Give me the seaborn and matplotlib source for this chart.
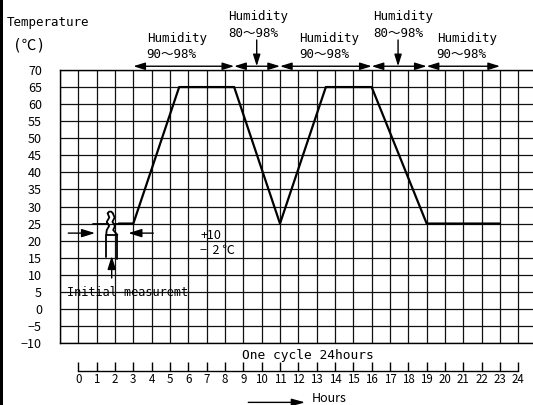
import matplotlib
matplotlib.use("Agg")
import matplotlib.pyplot as plt
from matplotlib.patches import Rectangle
import seaborn as sns

# ---------------- data ----------------
hours = [2.2, 3, 5.5, 8.5, 11, 13.5, 16, 19, 23]
temps = [25, 25, 65, 65, 25, 65, 65, 25, 25]
ytick_vals = [-10, -5, 0, 5, 10, 15, 20, 25, 30, 35, 40, 45, 50, 55, 60, 65, 70]
ytick_labels = ["−10", "−5", "0", "5", "10", "15", "20", "25", "30", "35",
                "40", "45", "50", "55", "60", "65", "70"]
ruler_hours = list(range(0, 25))
humidity_bounds = [3, 8.5, 11, 16, 19, 23]
humidity_ranges = ["90～98%", "80～98%", "90～98%", "80～98%", "90～98%"]
humidity_label_x = [3.73, 8.18, 12.06, 16.1, 19.55]
humidity_raised = [False, True, False, True, False]
humidity_marker_x = [9.73, 17.44]

# break-symbol / initial measurement sketch (hours, temperature)
stub_left_x, stub_left_y = [0.8, 1.6], [25, 25]
stub_right_x, stub_right_y = [1.93, 3.0], [25, 25]
wave_left_x = [1.6, 1.69, 1.55, 1.68, 1.55, 1.52]
wave_left_y = [28.0, 26.8, 25.5, 24.3, 23.1, 21.7]
wave_right_x = [1.88, 1.98, 1.86, 2.0, 1.9, 2.13]
wave_right_y = [28.0, 26.8, 25.5, 24.3, 23.1, 21.7]
cap_x = [1.6, 1.68, 1.8, 1.88]
cap_y = [28.0, 28.5, 28.5, 28.0]
box_x = [1.49, 1.49, 2.13, 2.13]
box_y = [15.1, 21.65, 21.65, 14.5]

# ---------------- figure ----------------
W, H, DPI = 533, 405, 100
sns.set_theme(style="white")
mono = ["DejaVu Sans Mono", "Noto Sans CJK JP"]
sans = ["Noto Sans CJK JP", "DejaVu Sans"]
plt.rcParams["font.family"] = mono

fig = plt.figure(figsize=(W / DPI, H / DPI), dpi=DPI)
fig.patch.set_facecolor("white")

def px(x, y):
    return x / W, 1 - y / H

ax = fig.add_axes([60 / W, 1 - 343 / H, 473 / W, 273 / H])
ax.set_facecolor("white")
ax.set_xlim(-1, 24.8)
ax.set_ylim(-10, 70)
ax.set_xticks(list(range(-1, 25)))
ax.set_xticklabels([])
ax.set_yticks(ytick_vals)
ax.set_yticklabels(ytick_labels, fontfamily=sans, fontsize=9, color="black")
ax.tick_params(axis="both", length=0)
ax.tick_params(axis="y", pad=13)
ax.grid(True, color="#111111", lw=0.9)
ax.set_axisbelow(True)
for side in ["left", "top", "bottom"]:
    ax.spines[side].set_color("black")
    ax.spines[side].set_linewidth(1.0)
ax.spines["right"].set_visible(False)

sns.lineplot(x=hours, y=temps, color="black", lw=1.6, ax=ax, estimator=None, sort=False)

# humidity segments above the chart
yarr = 71.1
for a, b in zip(humidity_bounds[:-1], humidity_bounds[1:]):
    ax.annotate("", xy=(b, yarr), xytext=(a, yarr), annotation_clip=False,
                arrowprops=dict(arrowstyle="<|-|>,head_length=0.7,head_width=0.22",
                                color="black", lw=1.0, shrinkA=0, shrinkB=0,
                                mutation_scale=10))
for xm in humidity_marker_x:
    ax.annotate("", xy=(xm, yarr), xytext=(xm, 78.8), annotation_clip=False,
                arrowprops=dict(arrowstyle="-|>,head_length=0.7,head_width=0.22",
                                color="black", lw=1.0, shrinkA=0, shrinkB=0,
                                mutation_scale=10))
for xl, rng, raised in zip(humidity_label_x, humidity_ranges, humidity_raised):
    y1, y2 = (85.8, 80.75) if raised else (79.3, 74.4)
    ax.text(xl, y1, "Humidity", ha="left", va="center", fontsize=9,
            color="black", clip_on=False)
    ax.text(xl, y2, rng, ha="left", va="center", fontsize=9,
            color="black", clip_on=False)

# initial measurement sketch
for xs, ys in [(stub_left_x, stub_left_y), (stub_right_x, stub_right_y),
               (wave_left_x, wave_left_y), (wave_right_x, wave_right_y),
               (cap_x, cap_y), (box_x, box_y)]:
    ax.plot(xs, ys, color="black", lw=1.3)
ax.annotate("", xy=(0.91, 22.2), xytext=(-0.55, 22.2),
            arrowprops=dict(arrowstyle="-|>,head_length=0.8,head_width=0.25",
                            color="black", lw=1.0, shrinkA=0, shrinkB=0, mutation_scale=10))
ax.annotate("", xy=(2.73, 22.2), xytext=(4.09, 22.2),
            arrowprops=dict(arrowstyle="-|>,head_length=0.8,head_width=0.25",
                            color="black", lw=1.0, shrinkA=0, shrinkB=0, mutation_scale=10))
ax.annotate("", xy=(1.82, 15.5), xytext=(1.82, 9.05),
            arrowprops=dict(arrowstyle="-|>,head_length=0.8,head_width=0.25",
                            color="black", lw=1.0, shrinkA=0, shrinkB=0, mutation_scale=10))
ax.text(-0.63, 4.75, "Initial measuremt", ha="left", va="center", fontsize=8.5, color="black")
ax.text(6.64, 21.6, "+10", ha="left", va="center", fontsize=9, color="black", fontfamily=sans)
ax.text(6.64, 17.0, "−  2 ℃", ha="left", va="center", fontsize=9, color="black", fontfamily=sans)

# hours ruler
rax = fig.add_axes([60 / W, 1 - 370.7 / H, 473 / W, 0.03])
rax.set_xlim(-1, 24.8)
rax.set_ylim(0, 1)
rax.set_facecolor("none")
for side in ["left", "top", "right"]:
    rax.spines[side].set_visible(False)
rax.spines["bottom"].set_color("black")
rax.spines["bottom"].set_linewidth(1.0)
rax.spines["bottom"].set_bounds(0, 24)
rax.set_yticks([])
rax.set_xticks(ruler_hours)
rax.set_xticklabels([str(h) for h in ruler_hours], fontfamily=sans, fontsize=8.3, color="black")
rax.tick_params(axis="x", bottom=True, direction="in", length=6.5, width=1.0,
                color="black", pad=1.5)
rax.grid(False)

# hours arrow at bottom
ax.annotate("", xy=(12.37, -27.4), xytext=(9.27, -27.4), annotation_clip=False,
            arrowprops=dict(arrowstyle="-|>,head_length=0.8,head_width=0.22",
                            color="black", lw=1.0, shrinkA=0, shrinkB=0, mutation_scale=10))

# figure texts
fig.text(*px(6.7, 22.7), "Temperature", ha="left", va="center", fontsize=9, color="black")
fig.text(*px(13.3, 45), "(℃)", ha="left", va="center", fontsize=10.5, color="black")
fig.text(*px(241.7, 355), "One cycle 24hours", ha="left", va="center", fontsize=9.3, color="black")
fig.text(*px(311.7, 404.5), "Hours", ha="left", va="bottom", fontsize=9, color="black", fontfamily=sans)

# left frame bar
fig.patches.append(Rectangle((0, 0), 3.3 / W, 1, transform=fig.transFigure,
                             facecolor="black", edgecolor="none", zorder=10))

fig.savefig("out.png", dpi=DPI, facecolor="white")
